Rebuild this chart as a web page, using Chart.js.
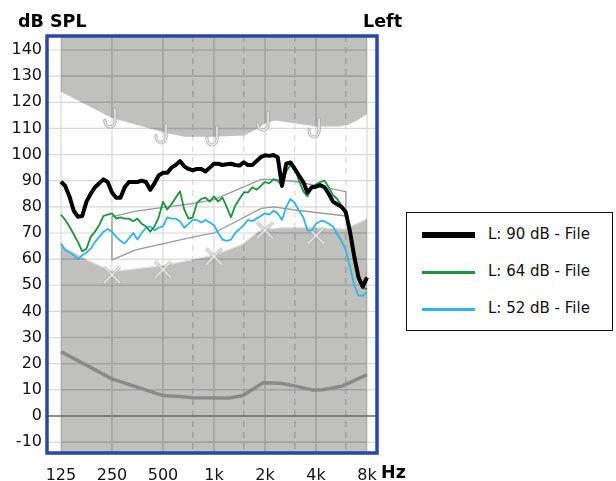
<!DOCTYPE html>
<html>
<head>
<meta charset="utf-8">
<script src="https://cdn.jsdelivr.net/npm/chart.js@4.4.1/dist/chart.umd.min.js"></script>
<style>
  html, body { margin: 0; padding: 0; background: #fff; }
  #wrap { position: relative; width: 616px; height: 481px; font-family: "DejaVu Sans", sans-serif; overflow: hidden; }
  #chart { position: absolute; left: 0; top: 0; }
  .title { position: absolute; font-weight: bold; font-size: 17.5px; line-height: 1; color: #000; white-space: nowrap; }
  #legend { position: absolute; left: 406px; top: 212px; width: 207px; height: 119px; border: 1.5px solid #111; box-sizing: border-box; background: #fff; }
  .swatch { position: absolute; left: 15px; width: 53px; }
  .entry { position: absolute; left: 81px; font-size: 15px; line-height: 1; color: #111; white-space: nowrap; }
</style>
</head>
<body>
<div id="wrap">
  <canvas id="chart" width="616" height="481"></canvas>
  <div class="title" style="left:18px; top:13px;">dB SPL</div>
  <div class="title" style="left:363px; top:13px;">Left</div>
  <div class="title" style="left:381px; top:464px;">Hz</div>
  <div id="legend"></div>
</div>
<script>
// Frequency grid of the measured responses (1/12 octave, Hz)
const freqs = [125,132.4,140.3,148.7,157.5,166.9,176.8,187.3,198.4,210.2,222.7,236,
  250,264.9,280.6,297.3,315,333.7,353.6,374.6,396.9,420.4,445.4,471.9,
  500,529.7,561.2,594.6,630,667.4,707.1,749.2,793.7,840.9,890.9,943.9,
  1000,1059,1122,1189,1260,1335,1414,1498,1587,1682,1782,1888,
  2000,2119,2245,2378,2520,2670,2828,2997,3175,3364,3564,3775,
  4000,4238,4490,4757,5040,5339,5657,5993,6350,6727,7127,7551,8000];

// Aided responses (dB SPL)
const loud90 = [89.6,88,84,78.5,76.2,76.5,82,85,87.5,89,90.5,89.5,
  85.5,83.5,83.5,87.5,89.5,89.5,89.5,90,89.5,86.5,89,92,
  93,93,95,96,97.5,95.5,94.5,94,94.5,94.5,93.5,95,
  96.5,96.5,96,96.3,96.5,96,95.8,97,96,96,97.5,99,
  99.7,99.5,99.8,99,88,96.5,97,94.5,92,89.5,85.5,87.5,
  87.7,88.3,87.5,85,82,81,80,78,70.5,61,53,49.5,53];
const mid64 = [77,75,72.5,69.5,66.5,63,64,68.5,70.5,73,76.5,77,
  77.5,75.5,76,75.5,75.5,74.5,75.5,73.5,72.5,70.5,72.5,76,
  82,79,81,83.5,86,79,75.5,76,81.5,83,83.5,82,
  84,82,83.5,80,76,80.5,83,85.5,85.5,87.5,86.5,88,
  89.5,89,90.5,90,88,93.5,96,95,90,86,84,87.5,
  88.5,89.5,90,87.5,84.5,83,80.5,77,69,61,53,49,48.5];
const soft52 = [66,63.5,62.5,61.5,60,61.5,62.5,64,66.5,68.5,70.5,71.5,
  70.5,68.5,67,66,68,70,67.5,70,72,72.5,71,72,
  72.5,76,75.5,75.5,74.5,72,73.5,75,75,74,75,74,
  73,70,67.5,67,67.5,70,71.5,73,75,74.5,75.5,76.5,
  77.5,77,78.5,77.5,75,80,83,81.5,78.5,76,71,71,
  73.5,74.5,74.5,73.5,72.5,69.5,67,63.5,57,50,46,46,47.5];
const seriesNames = ['L: 90 dB - File', 'L: 64 dB - File', 'L: 52 dB - File'];

// Discomfort region (shaded above) and threshold region (shaded below)
const uclFreqs  = [125,250,450,500,670,1000,1500,1820,2000,2300,3000,4000,5500,6200,7000,8000];
const uclLevels = [124,114,109.4,108.5,106.8,106.8,107.3,110,112,113,112,110.7,110.7,111.5,113,115.5];
const thrFreqs  = [125,178,250,500,1000,1450,1820,2000,2500,4000,6000,8000];
const thrLevels = [65.2,59.8,55.3,57.5,61.5,65.5,70.5,71.5,72,72,71.5,75.5];

// Measured UCL hooks and threshold crosses
const markFreqs = [250,500,1000,2000,4000];
const uclMarks  = [114,108.1,107.2,112.8,110.3];
const thrMarks  = [54,56,61,71,69];

// Speech range outline: upper edge then lower edge back to start
const speechFreqs  = [250,345,760,1000,1900,2250,3100,6000, 6000,3000,2250,1900,1000,760,345,250,250];
const speechLevels = [76.2,78.4,81.3,82.8,90.5,90.5,89.6,85.8, 76.5,78.8,80,79.4,70,68.5,63.5,59.7,76.2];

// Ambient noise floor
const noiseFreqs  = [125,250,500,630,750,1240,1480,1950,2450,3000,3840,4400,5770,8000];
const noiseLevels = [24.6,14.2,7.8,7.4,7,6.9,7.8,12.7,12.5,11.5,9.9,10,11.5,15.8];

// Axis ticks
const yTickValues = [-10,0,10,20,30,40,50,60,70,80,90,100,110,120,130,140];
const octaveFreqs = [125,250,500,1000,2000,4000,8000];
const octaveLabels = ['125','250','500','1k','2k','4k','8k'];
const halfOctaveFreqs = [750,1500,3000,6000];

const pts = (fs, vs) => fs.map((f, i) => ({ x: f, y: vs[i] }));

// Marker glyphs
function hookGlyph() {
  const c = document.createElement('canvas');
  c.width = 24; c.height = 24;
  const g = c.getContext('2d');
  const path = () => {
    g.beginPath();
    g.moveTo(15, 3);
    g.lineTo(15, 16);
    g.arc(10, 16, 5, 0, Math.PI, false);
    g.lineTo(5, 14);
  };
  g.lineCap = 'round';
  g.strokeStyle = '#9c9c9c'; g.lineWidth = 3; path(); g.stroke();
  g.strokeStyle = '#f7f7f7'; g.lineWidth = 1.4; path(); g.stroke();
  return c;
}
function crossGlyph() {
  const c = document.createElement('canvas');
  c.width = 20; c.height = 20;
  const g = c.getContext('2d');
  const path = () => {
    g.beginPath();
    g.moveTo(2, 2); g.lineTo(18, 18);
    g.moveTo(18, 2); g.lineTo(2, 18);
  };
  g.strokeStyle = '#a8a8a8'; g.lineWidth = 3; path(); g.stroke();
  g.strokeStyle = '#f4f4f4'; g.lineWidth = 1.4; path(); g.stroke();
  return c;
}

const SHADE = '#c0c0bc';
const curveColors = ['#000000', '#18963a', '#2ab6f0'];
const curveWidths = [4, 1.8, 1.8];

function drawGrid(chart, color, width) {
  const { ctx, chartArea: a, scales: { x, y } } = chart;
  ctx.save();
  ctx.strokeStyle = color;
  ctx.lineWidth = width;
  ctx.beginPath();
  yTickValues.forEach(v => {
    const py = y.getPixelForValue(v);
    ctx.moveTo(a.left, py); ctx.lineTo(a.right, py);
  });
  octaveFreqs.forEach(f => {
    const px = x.getPixelForValue(f);
    ctx.moveTo(px, a.top); ctx.lineTo(px, a.bottom);
  });
  ctx.stroke();
  ctx.setLineDash([6, 5]);
  ctx.beginPath();
  halfOctaveFreqs.forEach(f => {
    const px = x.getPixelForValue(f);
    ctx.moveTo(px, a.top); ctx.lineTo(px, a.bottom);
  });
  ctx.stroke();
  ctx.restore();
}

const audiogramGrid = {
  id: 'audiogramGrid',
  beforeDatasetsDraw(chart) {
    drawGrid(chart, '#d8d8d8', 1.2);
  },
  afterDatasetDraw(chart, args) {
    const ds = chart.data.datasets[args.index];
    if (!ds.shade) return;
    const { ctx, chartArea: a, scales: { y } } = chart;
    const p = args.meta.data;
    const edge = ds.shade === 'upper' ? a.top : a.bottom;
    ctx.save();
    ctx.beginPath();
    ctx.moveTo(p[0].x, edge);
    p.forEach(pt => ctx.lineTo(pt.x, pt.y));
    ctx.lineTo(p[p.length - 1].x, edge);
    ctx.closePath();
    ctx.clip();
    drawGrid(chart, '#a2a2a2', 1.6);
    ctx.restore();
    if (ds.shade === 'lower') {
      const py = y.getPixelForValue(0);
      ctx.save();
      ctx.strokeStyle = '#6e6e6e';
      ctx.lineWidth = 1.6;
      ctx.beginPath();
      ctx.moveTo(a.left, py); ctx.lineTo(a.right, py);
      ctx.stroke();
      ctx.restore();
    }
  },
  afterDraw(chart) {
    const { ctx, chartArea: a } = chart;
    ctx.save();
    ctx.strokeStyle = '#2a46a6';
    ctx.lineWidth = 3.5;
    ctx.strokeRect(a.left, a.top, a.right - a.left, a.bottom - a.top);
    ctx.restore();
  }
};

const lineBase = { pointRadius: 0, tension: 0, fill: false };

const datasets = [
  Object.assign({}, lineBase, { shade: 'upper', data: pts(uclFreqs, uclLevels), fill: 'end',
    backgroundColor: SHADE, borderColor: SHADE, borderWidth: 0, order: 20 }),
  Object.assign({}, lineBase, { shade: 'lower', data: pts(thrFreqs, thrLevels), fill: 'start',
    backgroundColor: SHADE, borderColor: '#e2e2e0', borderWidth: 1.2, order: 19 }),
  Object.assign({}, lineBase, { data: pts(noiseFreqs, noiseLevels), borderColor: '#8a8a8a', borderWidth: 3.5, order: 18 }),
  Object.assign({}, lineBase, { data: pts(speechFreqs, speechLevels), borderColor: '#9a9a9a', borderWidth: 1.3, order: 17 }),
  { data: pts(markFreqs, thrMarks), showLine: false, pointStyle: crossGlyph(), pointRadius: 6, order: 16 },
  { data: pts(markFreqs, uclMarks), showLine: false, pointStyle: hookGlyph(), pointRadius: 6, order: 15 },
];
[soft52, mid64, loud90].forEach((vals, j) => {
  const idx = 2 - j;
  datasets.push(Object.assign({}, lineBase, {
    label: seriesNames[idx], data: pts(freqs, vals),
    borderColor: curveColors[idx], borderWidth: curveWidths[idx], order: 3 - j,
    borderJoinStyle: 'round'
  }));
});

new Chart(document.getElementById('chart'), {
  type: 'line',
  data: { datasets },
  options: {
    responsive: false,
    animation: false,
    events: [],
    layout: { padding: { left: 0, top: 36, right: 239, bottom: 0 } },
    plugins: { legend: { display: false }, tooltip: { enabled: false } },
    scales: {
      x: {
        type: 'logarithmic',
        min: 103.4, max: 9165,
        afterBuildTicks: s => { s.ticks = octaveFreqs.concat(halfOctaveFreqs).map(v => ({ value: v })); },
        afterFit: s => { s.height = 28; },
        grid: { display: false, drawTicks: false },
        border: { display: false },
        ticks: {
          autoSkip: false, maxRotation: 0, minRotation: 0, padding: 13,
          color: '#111', font: { family: 'DejaVu Sans', size: 16 },
          callback: v => { const i = octaveFreqs.indexOf(v); return i >= 0 ? octaveLabels[i] : ''; }
        }
      },
      y: {
        min: -14.17, max: 145.36,
        afterBuildTicks: s => { s.ticks = yTickValues.map(v => ({ value: v })); },
        afterFit: s => { s.width = 47; },
        grid: { display: false, drawTicks: false },
        border: { display: false },
        ticks: {
          padding: 5, color: '#111', font: { family: 'DejaVu Sans', size: 16 },
          callback: v => String(v)
        }
      }
    }
  },
  plugins: [audiogramGrid]
});

// Legend built from the response series
const legend = document.getElementById('legend');
const rowCenters = [22, 59, 96];
const swatchHeights = [6, 3, 3];
seriesNames.forEach((name, i) => {
  const sw = document.createElement('div');
  sw.className = 'swatch';
  sw.style.background = curveColors[i];
  sw.style.height = swatchHeights[i] + 'px';
  sw.style.top = (rowCenters[i] - swatchHeights[i] / 2) + 'px';
  legend.appendChild(sw);
  const t = document.createElement('div');
  t.className = 'entry';
  t.textContent = name;
  t.style.top = (rowCenters[i] - 8) + 'px';
  legend.appendChild(t);
});
</script>
</body>
</html>
